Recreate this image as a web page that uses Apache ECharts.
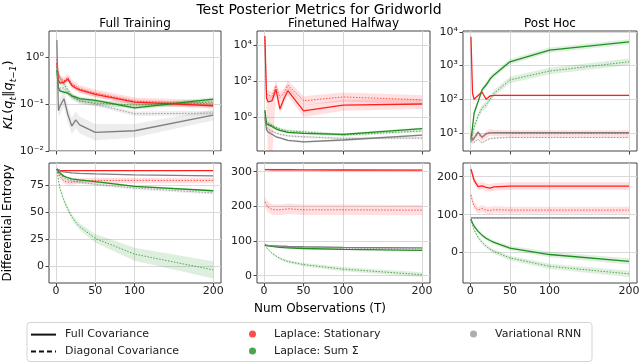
<!DOCTYPE html>
<html>
<head>
<meta charset="utf-8">
<script src="https://cdn.jsdelivr.net/npm/echarts@6.0.0/dist/echarts.min.js"></script>
<style>
  html, body { margin: 0; padding: 0; background: #fff; }
  #main { width: 640px; height: 363px; }
</style>
</head>
<body>
<div id="main"></div>
<script>
const xObs = [1, 3, 5, 10, 15, 20, 25, 30, 50, 100, 200];
const xTicks = [0, 50, 100, 200];

// KL, Full Training
const klFtStatFull = [0.75, 0.32, 0.28, 0.29, 0.34, 0.25, 0.22, 0.2, 0.16, 0.11, 0.092];
const klFtStatDiag = [0.9, 0.45, 0.36, 0.31, 0.37, 0.27, 0.24, 0.21, 0.17, 0.115, 0.1];
const klFtSumFull = [0.53, 0.22, 0.19, 0.18, 0.17, 0.15, 0.14, 0.13, 0.12, 0.083, 0.128];
const klFtSumDiag = [0.62, 0.42, 0.35, 0.27, 0.2, 0.15, 0.13, 0.115, 0.105, 0.095, 0.11];
const klFtRnnFull = [2.3, 0.072, 0.09, 0.13, 0.06, 0.034, 0.046, 0.036, 0.025, 0.027, 0.058];
const klFtRnnDiag = [0.5, 0.22, 0.2, 0.22, 0.17, 0.14, 0.13, 0.12, 0.1, 0.062, 0.064];
const klFtRnnSpread = [1.3, 1.4, 1.5, 1.5, 1.5, 1.5, 1.5, 1.5, 1.5, 1.4, 1.3];

// KL, Finetuned Halfway
const klFhStatFull = [31600, 11, 7, 8, 34, 2.8, 10, 29, 2.2, 4.6, 5.3];
const klFhStatFullLo = [25000, 5, 0.005, 0.005, 18, 1.5, 5.5, 15, 1, 2.2, 2.8];
const klFhStatFullHi = [40000, 20, 12, 14, 60, 5, 18, 55, 4.5, 9, 10];
const klFhStatDiag = [20000, 22, 16, 14, 55, 12, 22, 60, 8, 13, 9];
const klFhSumFull = [2.4, 0.42, 0.35, 0.3, 0.22, 0.18, 0.16, 0.14, 0.125, 0.11, 0.23];
const klFhSumDiag = [2.0, 0.55, 0.45, 0.35, 0.27, 0.22, 0.19, 0.17, 0.15, 0.1, 0.17];
const klFhRnnFull = [1.0, 0.2, 0.15, 0.11, 0.08, 0.07, 0.06, 0.05, 0.042, 0.053, 0.1];
const klFhRnnDiag = [1.2, 0.3, 0.22, 0.16, 0.13, 0.11, 0.1, 0.09, 0.08, 0.065, 0.068];

// KL, Post Hoc
const klPhStatFull = [7200, 150, 100, 130, 165, 100, 125, 130, 130, 130, 130];
const klPhStatDiag = [9, 6.5, 7, 9.5, 7, 9, 10.5, 10, 9.6, 9.6, 9.6];
const klPhSumFull = [6.2, 15, 39, 85, 190, 265, 400, 530, 1300, 2900, 5100];
const klPhSumDiag = [5.5, 9, 15, 32, 55, 68, 100, 150, 375, 690, 1300];
const klPhRnnFull = [8, 6, 6.5, 10.5, 7.5, 9.5, 10, 10.2, 10.2, 10.2, 10.2];
const klPhRnnDiag = [5.5, 4.8, 5.2, 6.5, 5, 6, 6.8, 7, 7.3, 7.3, 7.3];

// Differential entropy, Full Training
const entFtStatFull = [90, 89, 88.8, 88.6, 88.6, 88.6, 88.6, 88.6, 88.6, 88.6, 88.6];
const entFtStatDiag = [90, 86, 83, 79, 78, 78, 78.5, 79, 79.5, 79.5, 79.5];
const entFtSumFull = [90, 87.5, 86, 83.5, 82, 81, 80.5, 80, 78.5, 74, 70];
const entFtSumDiag = [90, 80, 72, 61, 53, 46, 41, 37, 26, 11.5, -3];
const entFtRnnFull = [90, 88.5, 88, 87.5, 87, 86.5, 86.3, 86, 85.5, 84.6, 83.8];
const entFtRnnDiag = [90, 87, 85, 82, 80.5, 79.5, 78.5, 78, 76, 72.5, 68];
const entFtSumDiagSpread = [0.5, 1, 1.5, 2, 2.5, 2.5, 3, 3, 4, 6, 8];

// Differential entropy, Finetuned Halfway
const entFhStatFull = [306, 306, 306, 305.5, 305.5, 305.5, 305.5, 305.5, 305, 304.8, 304.5];
const entFhStatDiag = [213, 205, 198, 191, 190, 190, 191, 193, 190, 190, 189];
const entFhSumFull = [88, 87, 86, 84.5, 83, 82, 81, 80.5, 78.5, 76, 73];
const entFhSumDiag = [88, 82, 76, 65, 57, 50, 45, 41, 32, 19, 3];
const entFhRnnFull = [89, 88, 87.5, 86.5, 86, 85.5, 85, 84.5, 83.5, 82, 80.5];
const entFhRnnDiag = [89, 87.5, 86.5, 85, 84, 83, 82.5, 82, 80.5, 79, 77.5];
const entFhSumDiagSpread = [1, 2, 2, 3, 3, 3, 4, 4, 5, 6, 7];

// Differential entropy, Post Hoc
const entPhStatFull = [220, 205, 190, 174, 176, 172, 170, 173, 175, 175, 175];
const entPhStatDiag = [152, 135, 122, 112, 116, 112, 111, 113, 112, 112, 112];
const entPhSumFull = [88, 78, 70, 56, 46, 38, 32, 27, 12, -5, -23];
const entPhSumDiag = [88, 72, 60, 40, 27, 17, 9, 3, -14, -36, -56];
const entPhRnnFull = [91.5, 91.5, 91.5, 91.5, 91.5, 91.5, 91.5, 91.5, 91.5, 91.5, 91.5];
const entPhRnnDiag = [91, 91, 91, 91, 91, 91, 91, 91, 91, 91, 91];
const entPhSumFullSpread = [1, 2, 3, 4, 4, 5, 5, 5, 6, 7, 8];
const entPhSumDiagSpread = [1, 2, 3, 4, 5, 5, 5, 6, 6, 7, 8];

const klFtTicks = [0.01, 0.1, 1];
const klFhTicks = [1, 100, 10000];
const klPhTicks = [10, 100, 1000, 10000];
const entFtTicks = [0, 25, 50, 75];
const entFhTicks = [0, 100, 200, 300];
const entPhTicks = [0, 100, 200];

const RED = '#ff1f1f', GREEN = '#1f8f1f', GREY = '#7f7f7f';
const INK = '#222', FRAME = '#444', GRID = '#d9d9d9';

const panels = [
  { log: true, series: [
    [klFtStatFull, RED, false, 1.15], [klFtStatDiag, RED, true, 1.2],
    [klFtSumFull, GREEN, false, 1.1], [klFtSumDiag, GREEN, true, 1.15],
    [klFtRnnFull, GREY, false, klFtRnnSpread], [klFtRnnDiag, GREY, true, 1.12]] },
  { log: true, series: [
    [klFhStatFull, RED, false, { lo: klFhStatFullLo, hi: klFhStatFullHi }], [klFhStatDiag, RED, true, 1.8],
    [klFhSumFull, GREEN, false, 1.15], [klFhSumDiag, GREEN, true, 1.2],
    [klFhRnnFull, GREY, false, 1.15], [klFhRnnDiag, GREY, true, 1.15]] },
  { log: true, series: [
    [klPhStatFull, RED, false, 1.05], [klPhStatDiag, RED, true, 1.25],
    [klPhSumFull, GREEN, false, 1.2], [klPhSumDiag, GREEN, true, 1.25],
    [klPhRnnFull, GREY, false, 1.04], [klPhRnnDiag, GREY, true, 1.06]] },
  { log: false, series: [
    [entFtStatFull, RED, false, 0.3], [entFtStatDiag, RED, true, 2.5],
    [entFtSumFull, GREEN, false, 0.8], [entFtSumDiag, GREEN, true, entFtSumDiagSpread],
    [entFtRnnFull, GREY, false, 0.4], [entFtRnnDiag, GREY, true, 1.5]] },
  { log: false, series: [
    [entFhStatFull, RED, false, 3], [entFhStatDiag, RED, true, 15],
    [entFhSumFull, GREEN, false, 2], [entFhSumDiag, GREEN, true, entFhSumDiagSpread],
    [entFhRnnFull, GREY, false, 1.5], [entFhRnnDiag, GREY, true, 1.5]] },
  { log: false, series: [
    [entPhStatFull, RED, false, 10], [entPhStatDiag, RED, true, 9],
    [entPhSumFull, GREEN, false, entPhSumFullSpread], [entPhSumDiag, GREEN, true, entPhSumDiagSpread],
    [entPhRnnFull, GREY, false, 0.5], [entPhRnnDiag, GREY, true, 0.5]] }
];

const grids = [
  { left: 49, top: 31, width: 172, height: 120 },
  { left: 257, top: 31, width: 173, height: 120 },
  { left: 463, top: 31, width: 174, height: 120 },
  { left: 49, top: 163, width: 172, height: 120 },
  { left: 257, top: 163, width: 173, height: 120 },
  { left: 463, top: 163, width: 174, height: 120 }
];

const yRanges = [
  { min: 0.01, max: 3.6, ticks: klFtTicks },
  { min: 0.013, max: 60000, ticks: klFhTicks },
  { min: 2.9, max: 10700, ticks: klPhTicks },
  { min: -15.1, max: 95.6, ticks: entFtTicks },
  { min: -21, max: 325, ticks: entFhTicks },
  { min: -80, max: 236, ticks: entPhTicks }
];

const supMap = { '0': '⁰', '1': '¹', '2': '²', '3': '³', '4': '⁴', '5': '⁵', '6': '⁶', '7': '⁷', '8': '⁸', '9': '⁹', '-': '⁻' };
function logLabel(v) {
  const e = Math.log10(v);
  if (Math.abs(e - Math.round(e)) > 1e-6) return '';
  return '10' + String(Math.round(e)).split('').map(c => supMap[c]).join('');
}

function bandEdges(vals, spread, log) {
  if (spread.lo) return [spread.lo, spread.hi];
  const s = i => Array.isArray(spread) ? spread[i] : spread;
  return log
    ? [vals.map((v, i) => v / s(i)), vals.map((v, i) => v * s(i))]
    : [vals.map((v, i) => v - s(i)), vals.map((v, i) => v + s(i))];
}

const series = [];
panels.forEach((p, g) => {
  p.series.forEach(([vals, color, dotted, spread]) => {
    const [lo, hi] = bandEdges(vals, spread, p.log);
    series.push({
      type: 'custom', xAxisIndex: g, yAxisIndex: g, clip: true, silent: true, z: 1,
      data: xObs.map((x, i) => [x, lo[i], hi[i]]),
      encode: { x: 0, y: [1, 2] },
      renderItem: (params, api) => {
        if (params.dataIndex !== 0) return null;
        const top = xObs.map((x, i) => api.coord([x, hi[i]]));
        const bot = xObs.map((x, i) => api.coord([x, lo[i]])).reverse();
        return { type: 'polygon', shape: { points: top.concat(bot) },
          style: { fill: color, opacity: 0.14 } };
      }
    });
    series.push({
      type: 'line', xAxisIndex: g, yAxisIndex: g, silent: true, clip: true,
      symbol: 'none', z: dotted ? 2 : 3,
      data: xObs.map((x, i) => [x, vals[i]]),
      lineStyle: { color, width: dotted ? 1 : 1.3, type: dotted ? [1.5, 1.5] : 'solid', opacity: dotted ? 0.75 : 1 }
    });
  });
});

// legend-only entries
series.push(
  { name: 'Full Covariance', type: 'line', data: [], symbol: 'none', color: '#111', lineStyle: { color: '#111', width: 1.5 } },
  { name: 'Diagonal Covariance', type: 'line', data: [], symbol: 'none', color: '#111', lineStyle: { color: '#111', width: 1.5, type: [5, 3] } },
  { name: 'Laplace: Stationary', type: 'scatter', data: [], itemStyle: { color: RED } },
  { name: 'Laplace: Sum Σ', type: 'scatter', data: [], itemStyle: { color: GREEN } },
  { name: 'Variational RNN', type: 'scatter', data: [], itemStyle: { color: '#999' } }
);

const xAxis = grids.map((_, g) => ({
  type: 'value', gridIndex: g, min: -9, max: 210,
  axisLine: { show: false, onZero: false },
  axisTick: { show: true, length: 3.5, customValues: xTicks, lineStyle: { color: FRAME } },
  axisLabel: { show: g >= 3, customValues: xTicks, fontSize: 11, color: INK, margin: 3 },
  splitLine: { show: true, customValues: xTicks, lineStyle: { color: GRID, width: 1 } }
}));

const yAxis = yRanges.map((r, g) => {
  const ax = {
    type: g < 3 ? 'log' : 'value', gridIndex: g, min: r.min, max: r.max,
    axisLine: { show: false, onZero: false },
    axisTick: { show: true, length: 3.5, customValues: r.ticks, lineStyle: { color: FRAME } },
    axisLabel: { fontSize: 11, color: INK, margin: 5, customValues: r.ticks },
    splitLine: { show: true, customValues: r.ticks, lineStyle: { color: GRID, width: 1 } }
  };
  if (g < 3) { ax.logBase = 10; ax.axisLabel.formatter = logLabel; }
  return ax;
});

const txt = (text, x, y, size, rot) => ({
  type: 'text', x, y, rotation: rot || 0, silent: true,
  style: { text, fontSize: size, fontFamily: 'DejaVu Sans', fill: '#000', align: 'center', verticalAlign: 'middle' }
});

const legendText = { fontSize: 11, color: INK, fontFamily: 'DejaVu Sans' };
const lineLegend = (name, top) => ({
  data: [name], left: 30, top, padding: 0, itemWidth: 25, itemHeight: 14, selectedMode: false,
  itemStyle: { opacity: 0 }, textStyle: Object.assign({ padding: [0, 0, 0, 4] }, legendText)
});
const dotLegend = (name, left, top, pad) => ({
  data: [name], left, top, padding: 0, icon: 'circle', itemWidth: 7, itemHeight: 7, selectedMode: false,
  textStyle: Object.assign({ padding: [0, 0, 0, pad] }, legendText)
});

const option = {
  animation: false,
  backgroundColor: '#fff',
  textStyle: { fontFamily: 'DejaVu Sans' },
  grid: grids.map(g => Object.assign({ show: true, borderColor: FRAME, borderWidth: 1, backgroundColor: 'transparent', containLabel: false, outerBoundsMode: 'none' }, g)),
  xAxis, yAxis, series,
  legend: [
    lineLegend('Full Covariance', 329),
    lineLegend('Diagonal Covariance', 346),
    dotLegend('Laplace: Stationary', 249, 328.5, 13),
    dotLegend('Laplace: Sum Σ', 249, 345.5, 13),
    dotLegend('Variational RNN', 470, 328.5, 13)
  ],
  graphic: [
    { type: 'rect', z: -1, silent: true, shape: { x: 27, y: 322.5, width: 565, height: 39, r: 3 }, style: { fill: '#fff', stroke: '#d4d4d4', lineWidth: 1 } },
    txt('Test Posterior Metrics for Gridworld', 319, 10, 14),
    txt('Full Training', 135, 24, 12),
    txt('Finetuned Halfway', 343.5, 24, 12),
    txt('Post Hoc', 550, 24, 12),
    txt('Num Observations (T)', 320, 309, 12),
    txt('Differential Entropy', 8, 223, 12, Math.PI / 2),
    {
      type: 'text', x: 9, y: 95, rotation: Math.PI / 2, silent: true,
      style: {
        text: '{i|KL}{n|(}{i|q}{s|t}{n|‖}{i|q}{s|t−1}{n|)}',
        align: 'center', verticalAlign: 'middle', fill: '#000',
        rich: {
          i: { fontSize: 13, fontStyle: 'italic', fontFamily: 'DejaVu Sans', lineHeight: 18, verticalAlign: 'middle' },
          n: { fontSize: 13, fontFamily: 'DejaVu Sans', lineHeight: 18, verticalAlign: 'middle' },
          s: { fontSize: 9, fontStyle: 'italic', fontFamily: 'DejaVu Sans', lineHeight: 10, verticalAlign: 'bottom' }
        }
      }
    }
  ]
};

const chart = echarts.init(document.getElementById('main'));
chart.setOption(option);
</script>
</body>
</html>
